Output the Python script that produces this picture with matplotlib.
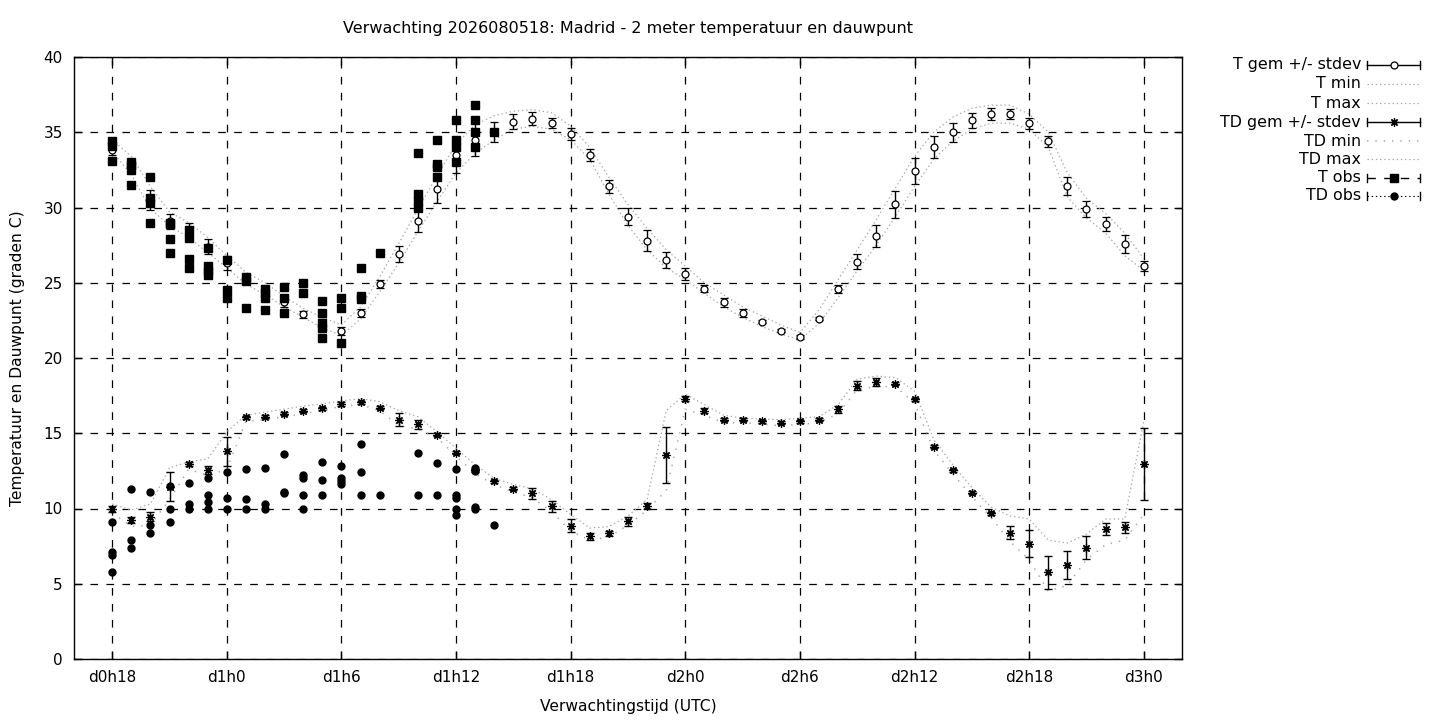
"""
Madrid: 2 meter temperatuur en dauwpunt, verwachting 2026080518.
Gnuplot-achtige weergave met matplotlib.
"""

import matplotlib
matplotlib.use("Agg")
import matplotlib.pyplot as plt
from matplotlib.lines import Line2D

plt.rcParams["font.family"] = ["DejaVu Sans"]
plt.rcParams["lines.scale_dashes"] = False

# ──────────────────────────────────────────────────────────────────────────────
# Data (uren sinds d0h0)
# ──────────────────────────────────────────────────────────────────────────────

hours = list(range(18, 73))

t_mean = [33.8, 32.7, 30.5, 29.1, 28.5, 27.4, 26.3, 25.2, 24.5, 23.7,
          22.9, 22.3, 21.8, 23.0, 24.9, 26.9, 29.1, 31.2, 33.5, 34.5,
          35.0, 35.7, 35.9, 35.6, 34.9, 33.5, 31.4, 29.4, 27.8, 26.5,
          25.6, 24.6, 23.7, 23.0, 22.4, 21.8, 21.4, 22.6, 24.6, 26.4,
          28.1, 30.2, 32.4, 34.0, 35.0, 35.8, 36.2, 36.2, 35.6, 34.4,
          31.4, 29.9, 28.9, 27.6, 26.1]
t_std = [0.3, 0.3, 0.65, 0.5, 0.45, 0.5, 0.45, 0.3, 0.3, 0.3,
         0.25, 0.3, 0.25, 0.25, 0.25, 0.55, 0.75, 0.9, 1.2, 1.1,
         0.65, 0.5, 0.42, 0.35, 0.39, 0.42, 0.41, 0.55, 0.69, 0.53,
         0.41, 0.24, 0.29, 0.28, 0.1, 0.1, 0.15, 0.1, 0.25, 0.48,
         0.72, 0.9, 0.86, 0.72, 0.64, 0.5, 0.4, 0.32, 0.37, 0.35,
         0.6, 0.53, 0.48, 0.6, 0.33]
t_max = [34.5, 33.4, 31.4, 29.7, 29.0, 28.0, 26.8, 25.7, 25.0, 24.1,
         23.3, 22.7, 22.2, 23.4, 25.4, 27.6, 29.9, 32.1, 34.2, 35.5,
         36.1, 36.4, 36.5, 36.3, 35.4, 34.0, 32.0, 30.2, 28.6, 27.2,
         26.1, 25.0, 24.2, 23.4, 22.8, 22.2, 21.7, 23.2, 25.2, 27.2,
         29.2, 31.3, 33.4, 35.0, 36.0, 36.6, 36.8, 36.8, 36.2, 35.0,
         32.3, 30.6, 29.6, 28.3, 26.6]
t_min = [33.7, 32.2, 29.9, 28.8, 28.0, 27.0, 26.0, 24.9, 24.2, 23.4,
         22.7, 22.0, 21.5, 22.6, 24.4, 26.3, 28.4, 30.4, 32.3, 33.6,
         34.5, 35.2, 35.4, 35.2, 34.5, 33.2, 30.9, 28.8, 27.2, 26.0,
         25.2, 24.3, 23.4, 22.7, 22.1, 21.6, 21.2, 22.3, 24.0, 25.8,
         27.5, 29.4, 31.4, 33.2, 34.4, 35.2, 35.6, 35.6, 35.2, 34.0,
         30.7, 29.3, 28.3, 26.8, 25.8]

td_mean = [9.95, 9.25, 9.45, 11.45, 12.95, 12.55, 13.8, 16.05, 16.1, 16.3,
           16.5, 16.65, 16.95, 17.05, 16.7, 15.9, 15.6, 14.9, 13.7, 12.55,
           11.8, 11.3, 11.0, 10.15, 8.85, 8.15, 8.35, 9.15, 10.15, 13.55,
           17.3, 16.5, 15.9, 15.9, 15.8, 15.7, 15.8, 15.9, 16.6, 18.15,
           18.4, 18.3, 17.25, 14.1, 12.55, 11.05, 9.7, 8.4, 7.65, 5.75,
           6.25, 7.4, 8.65, 8.75, 12.95]
td_std = [0.2, 0.2, 0.3, 0.95, 0.15, 0.25, 0.95, 0.1, 0.1, 0.1,
          0.1, 0.1, 0.15, 0.1, 0.1, 0.42, 0.3, 0.1, 0.1, 0.1,
          0.1, 0.1, 0.35, 0.37, 0.44, 0.25, 0.15, 0.28, 0.2, 1.85,
          0.19, 0.15, 0.1, 0.1, 0.1, 0.1, 0.1, 0.1, 0.24, 0.3,
          0.28, 0.1, 0.1, 0.1, 0.1, 0.1, 0.1, 0.45, 0.9, 1.1,
          0.95, 0.75, 0.4, 0.38, 2.4]
td_max = [10.3, 9.9, 10.3, 12.7, 13.1, 13.3, 15.1, 16.2, 16.4, 16.6,
          16.8, 16.95, 17.15, 17.3, 17.1, 16.5, 16.1, 15.1, 14.0, 12.9,
          12.0, 11.6, 11.3, 10.6, 9.6, 8.7, 8.8, 9.5, 10.6, 16.5,
          17.6, 16.9, 16.2, 16.0, 15.95, 15.9, 16.0, 16.1, 16.9, 18.6,
          18.8, 18.7, 17.8, 14.6, 12.9, 11.4, 10.1, 9.5, 9.3, 7.9,
          7.7, 8.3, 9.3, 9.3, 15.8]
td_min = [9.7, 8.8, 8.9, 10.6, 12.6, 12.2, 12.6, 15.8, 15.9, 16.1,
          16.3, 16.5, 16.8, 16.9, 16.5, 15.5, 15.3, 14.7, 13.5, 12.3,
          11.6, 11.1, 10.7, 9.8, 8.5, 7.9, 8.1, 8.9, 9.9, 11.2,
          16.6, 16.2, 15.7, 15.7, 15.6, 15.5, 15.6, 15.7, 16.3, 17.9,
          18.1, 18.1, 17.0, 13.9, 12.3, 10.8, 9.4, 7.8, 6.6, 4.5,
          4.9, 6.6, 7.6, 7.9, 9.6]

# waarnemingen (meerdere stations per uur)
t_obs_hours = [18, 18, 18, 19, 19, 19, 19, 20, 20, 20, 20, 21, 21, 21, 21,
               22, 22, 22, 22, 23, 23, 23, 23, 24, 24, 24, 25, 25, 25,
               26, 26, 26, 26, 27, 27, 27, 28, 28, 29, 29, 29, 29, 29,
               30, 30, 30, 31, 31, 31, 32, 34, 34, 34, 34, 35, 35, 35, 35,
               36, 36, 36, 36, 37, 37, 37, 37, 38]
t_obs_vals = [34.4, 34.1, 33.1, 33.0, 32.8, 32.5, 31.5, 32.0, 30.6, 30.3, 29.0,
              29.0, 28.9, 27.9, 27.0, 28.5, 28.0, 26.6, 26.0, 27.3, 26.1, 25.8, 25.5,
              26.5, 24.5, 24.0, 25.4, 25.1, 23.3, 24.6, 24.3, 24.0, 23.2,
              24.7, 24.0, 23.0, 25.0, 24.3, 23.8, 23.0, 22.3, 22.0, 21.3,
              24.0, 23.3, 21.0, 26.0, 24.1, 23.9, 27.0, 33.6, 30.9, 30.4, 30.0,
              34.5, 32.9, 32.7, 32.0, 35.8, 34.5, 34.0, 33.0, 36.8, 35.8, 35.0, 34.0,
              35.0]

td_obs_hours = [18, 18, 18, 18, 19, 19, 19, 20, 20, 20, 21, 21, 21, 22, 22, 22,
                23, 23, 23, 23, 24, 24, 24, 25, 25, 25, 26, 26, 26, 27, 27, 27,
                28, 28, 28, 28, 29, 29, 29, 30, 30, 30, 30, 31, 31, 31, 32,
                34, 34, 35, 35, 36, 36, 36, 36, 36, 37, 37, 37, 37, 38]
td_obs_vals = [9.1, 7.1, 6.9, 5.8, 11.3, 7.9, 7.4, 11.1, 8.9, 8.4, 11.5, 10.0, 9.1,
               11.7, 10.3, 10.0, 12.0, 10.9, 10.4, 10.0, 12.4, 10.7, 10.0,
               12.6, 10.6, 10.0, 12.7, 10.3, 10.0, 13.6, 11.1, 11.0,
               12.2, 12.0, 10.9, 10.0, 13.1, 11.9, 10.9, 12.8, 12.0, 11.8, 11.6,
               14.3, 12.4, 10.9, 10.9, 13.7, 10.9, 13.0, 10.9,
               12.6, 10.9, 10.7, 10.0, 9.6, 12.7, 12.5, 10.1, 10.0, 8.9]

tick_hours = [18, 24, 30, 36, 42, 48, 54, 60, 66, 72]
tick_labels = ["d0h18", "d1h0", "d1h6", "d1h12", "d1h18",
               "d2h0", "d2h6", "d2h12", "d2h18", "d3h0"]

TITLE = "Verwachting 2026080518: Madrid - 2 meter temperatuur en dauwpunt"

W, H = 1440, 720
GREY = "#a8a8a8"


def px(x, y):
    """pixelcoordinaten -> figuurfracties"""
    return x / W, 1 - y / H


fig = plt.figure(figsize=(W / 100, H / 100), dpi=100)
ax = fig.add_axes([74 / W, 1 - 659 / H, (1182 - 74) / W, (659 - 57) / H])

# ── model: T ─────────────────────────────────────────────────────────────────
ax.errorbar(hours, t_mean, yerr=t_std, fmt="o", ms=5, mfc="white", mec="black",
            mew=0.9, ecolor="black", elinewidth=1, capsize=3.2, capthick=1, zorder=4)
ax.plot(hours, t_min, color=GREY, ls=(0, (1, 2)), lw=0.9, zorder=3)
ax.plot(hours, t_max, color=GREY, ls=(0, (1, 2)), lw=0.9, zorder=3)

# ── model: TD ────────────────────────────────────────────────────────────────
ax.errorbar(hours, td_mean, yerr=td_std, fmt="none", ecolor="black",
            elinewidth=1, capsize=3.2, capthick=1, zorder=4)
ax.plot(hours, td_mean, ls="none", marker=(8, 2, 0), ms=6, mec="black", mew=0.9, zorder=4)
ax.plot(hours, td_min, color=GREY, ls=(0, (1, 5)), lw=1.1, zorder=3)
ax.plot(hours, td_max, color=GREY, ls=(0, (1, 2)), lw=0.9, zorder=3)

# ── waarnemingen ─────────────────────────────────────────────────────────────
ax.plot(t_obs_hours, t_obs_vals, ls="none", marker="s", ms=5.2, color="black", zorder=5)
ax.plot(td_obs_hours, td_obs_vals, ls="none", marker="o", ms=5, color="black", zorder=5)

# ── assen ────────────────────────────────────────────────────────────────────
ax.set_xlim(16, 74)
ax.set_ylim(0, 40)
ax.set_xticks(tick_hours)
ax.set_xticklabels(tick_labels)
ax.set_yticks(range(0, 41, 5))
ax.tick_params(direction="in", length=6, width=1, top=True, right=True,
               labelsize=11, pad=8)
ax.grid(True, color="black", lw=0.9, ls=(0, (5.5, 6)))
ax.set_axisbelow(True)
for sp in ax.spines.values():
    sp.set_linewidth(1)

fig.text(*px(628, 29), TITLE, ha="center", va="center", fontsize=11.5)
fig.text(*px(628, 707), "Verwachtingstijd (UTC)", ha="center", va="center", fontsize=11.2)
fig.text(*px(18, 358), "Temperatuur en Dauwpunt (graden C)", ha="center",
         va="center", rotation=90, fontsize=11.2)

# ── legenda (gnuplot-stijl: tekst rechts uitgelijnd, monster rechts) ─────────
labels = ["T gem +/- stdev", "T min", "T max", "TD gem +/- stdev",
          "TD min", "TD max", "T obs", "TD obs"]
rows_y = [65, 84, 103, 122, 141, 159, 178, 196]
x0, x1 = 1367, 1420
tf = fig.transFigure


def sample_line(y, ls, color="black", lw=1):
    (a, b), (c, d) = px(x0, y), px(x1, y)
    fig.add_artist(Line2D([a, c], [b, d], transform=tf, color=color, ls=ls, lw=lw))


def caps(y):
    for x in (x0, x1):
        (a, b), (c, d) = px(x, y - 4), px(x, y + 4)
        fig.add_artist(Line2D([a, c], [b, d], transform=tf, color="black", lw=1))


def marker(y, **kw):
    a, b = px((x0 + x1) / 2, y)
    fig.add_artist(Line2D([a], [b], transform=tf, ls="none", **kw))


for lab, y in zip(labels, rows_y):
    fig.text(*px(1361, y), lab, ha="right", va="center", fontsize=11.4)

sample_line(rows_y[0], "-")
caps(rows_y[0])
marker(rows_y[0], marker="o", ms=5, mfc="white", mec="black", mew=0.9)
sample_line(rows_y[1], (0, (1, 2)), GREY, 0.9)
sample_line(rows_y[2], (0, (1, 2)), GREY, 0.9)
sample_line(rows_y[3], "-")
caps(rows_y[3])
marker(rows_y[3], marker=(8, 2, 0), ms=6, mec="black", mew=0.9)
sample_line(rows_y[4], (0, (1, 5)), GREY, 1.1)
sample_line(rows_y[5], (0, (1, 2)), GREY, 0.9)
sample_line(rows_y[6], (0, (6, 6)))
caps(rows_y[6])
marker(rows_y[6], marker="s", ms=5.2, color="black")
sample_line(rows_y[7], (0, (1, 2)), "black", 0.8)
caps(rows_y[7])
marker(rows_y[7], marker="o", ms=5, color="black")

fig.savefig("out.png", dpi=100)
